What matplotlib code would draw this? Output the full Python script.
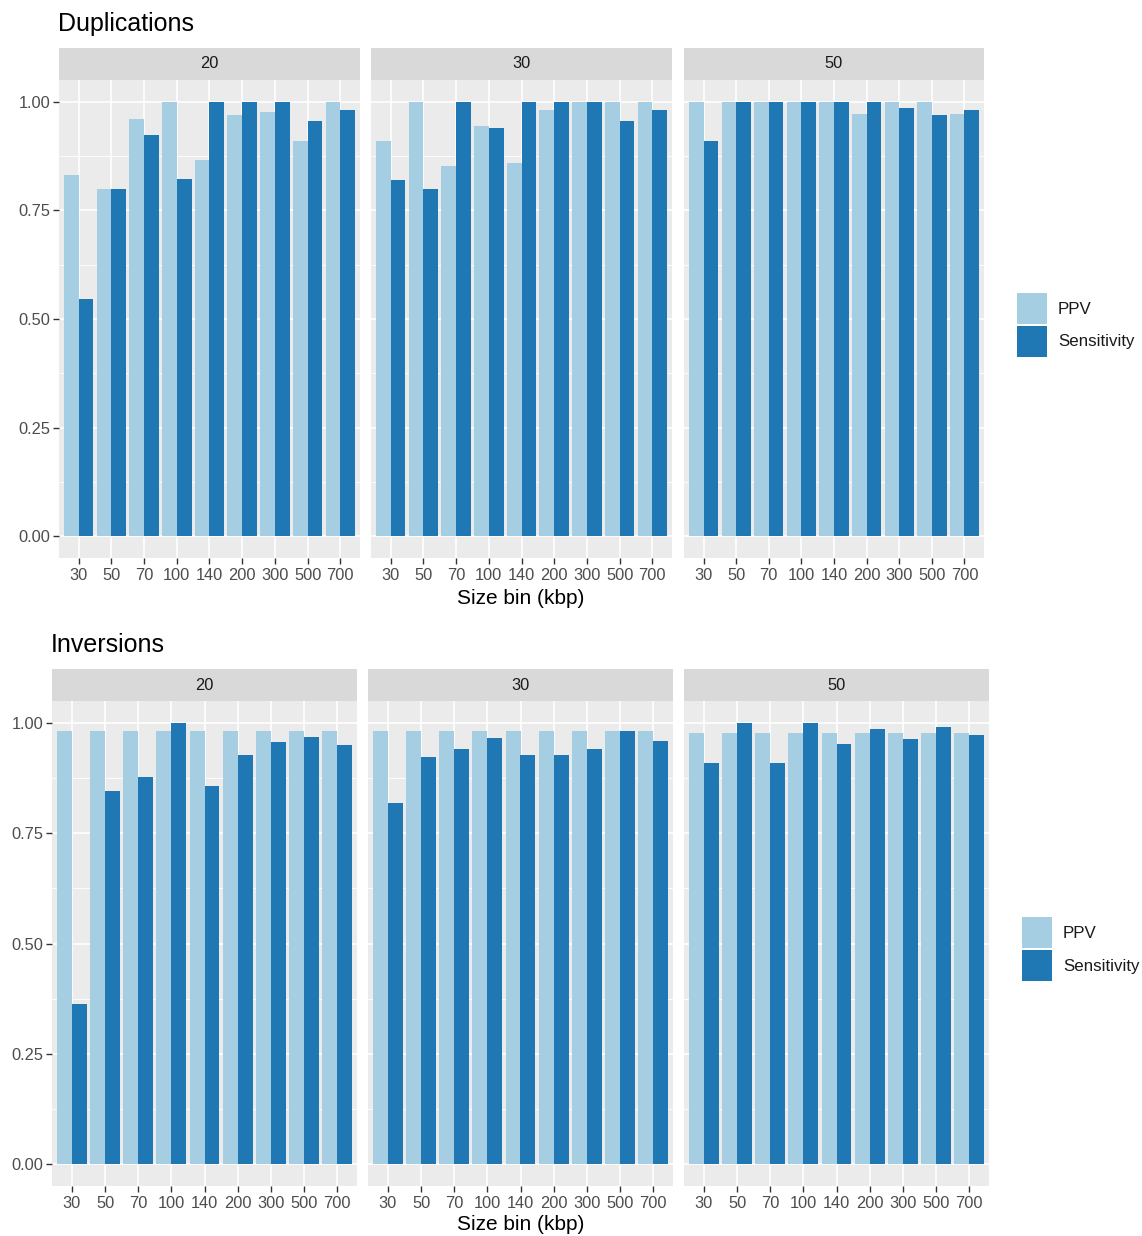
import numpy as np
import matplotlib
matplotlib.use("Agg")
import matplotlib.pyplot as plt
from matplotlib.patches import Rectangle

plt.rcParams['font.family'] = ['Liberation Sans', 'DejaVu Sans']

size_bins = ["30", "50", "70", "100", "140", "200", "300", "500", "700"]
coverages = ["20", "30", "50"]

# Duplications: PPV and sensitivity per coverage
dup_ppv_20 = [0.831, 0.799, 0.960, 1.000, 0.865, 0.969, 0.976, 0.910, 1.000]
dup_sens_20 = [0.546, 0.799, 0.923, 0.822, 1.000, 1.000, 1.000, 0.956, 0.982]
dup_ppv_30 = [0.910, 1.000, 0.851, 0.943, 0.860, 0.982, 1.000, 1.000, 1.000]
dup_sens_30 = [0.819, 0.799, 1.000, 0.940, 1.000, 1.000, 1.000, 0.956, 0.982]
dup_ppv_50 = [1.000, 1.000, 1.000, 1.000, 1.000, 0.971, 1.000, 1.000, 0.971]
dup_sens_50 = [0.910, 1.000, 1.000, 1.000, 1.000, 1.000, 0.985, 0.969, 0.982]

# Inversions: PPV and sensitivity per coverage
inv_ppv_20 = [0.982, 0.982, 0.982, 0.982, 0.982, 0.982, 0.982, 0.982, 0.982]
inv_sens_20 = [0.362, 0.845, 0.877, 1.000, 0.858, 0.927, 0.956, 0.969, 0.950]
inv_ppv_30 = [0.982, 0.982, 0.982, 0.982, 0.982, 0.982, 0.982, 0.982, 0.982]
inv_sens_30 = [0.818, 0.923, 0.941, 0.967, 0.927, 0.927, 0.941, 0.982, 0.960]
inv_ppv_50 = [0.978, 0.978, 0.978, 0.978, 0.978, 0.978, 0.978, 0.978, 0.978]
inv_sens_50 = [0.910, 1.000, 0.910, 1.000, 0.952, 0.986, 0.963, 0.992, 0.972]

series_names = ["PPV", "Sensitivity"]
colors = ["#A6CEE3", "#1F78B4"]

W, H = 1142, 1236
fig = plt.figure(figsize=(W / 100, H / 100), dpi=100)
fig.patch.set_facecolor("white")


def box(x0, y0, x1, y1):
    """Pixel box (top-left origin) to figure fraction rect."""
    return [x0 / W, 1 - y1 / H, (x1 - x0) / W, (y1 - y0) / H]


PANEL_BG = "#EBEBEB"
STRIP_BG = "#D9D9D9"
TXT = "#4D4D4D"
TICK_FS = 11.8


def draw_panel(rect, strip_rect, label, ppv, sens, show_y):
    ax = fig.add_axes(box(*rect))
    ax.set_facecolor(PANEL_BG)
    x = np.arange(len(size_bins))
    w = 0.45
    ax.set_xlim(-0.6, len(size_bins) - 0.4)
    ax.set_ylim(-0.05, 1.05)
    # minor grid
    for yv in [0.125, 0.375, 0.625, 0.875]:
        ax.axhline(yv, color="white", lw=0.6, zorder=0)
    for yv in [0, 0.25, 0.5, 0.75, 1.0]:
        ax.axhline(yv, color="white", lw=1.2, zorder=0)
    for xv in x:
        ax.axvline(xv, color="white", lw=1.2, zorder=0)
    ax.bar(x - w / 2, ppv, width=w, color=colors[0], zorder=2, linewidth=0)
    ax.bar(x + w / 2, sens, width=w, color=colors[1], zorder=2, linewidth=0)
    for s in ax.spines.values():
        s.set_visible(False)
    ax.set_xticks(x)
    ax.set_xticklabels(size_bins, fontsize=TICK_FS, color=TXT)
    ax.tick_params(axis="x", colors="#333333", length=4, width=1, pad=3)
    ax.set_yticks([0, 0.25, 0.5, 0.75, 1.0])
    if show_y:
        ax.set_yticklabels(["0.00", "0.25", "0.50", "0.75", "1.00"], fontsize=TICK_FS, color=TXT)
        ax.tick_params(axis="y", colors="#333333", length=4, width=1, pad=2)
    else:
        ax.set_yticklabels([])
        ax.tick_params(axis="y", length=0)
    for t in ax.get_xticklabels() + ax.get_yticklabels():
        t.set_color(TXT)
    sax = fig.add_axes(box(*strip_rect))
    sax.set_facecolor(STRIP_BG)
    sax.set_xticks([])
    sax.set_yticks([])
    for s in sax.spines.values():
        s.set_visible(False)
    sax.text(0.5, 0.5, label, ha="center", va="center", fontsize=11.8, color="#1A1A1A",
             transform=sax.transAxes)
    return ax


def draw_legend(x0, y0):
    lax = fig.add_axes(box(x0, y0, x0 + 125, y0 + 66))
    lax.set_xlim(0, 125)
    lax.set_ylim(66, 0)
    lax.axis("off")
    for i, (name, c) in enumerate(zip(series_names, colors)):
        lax.add_patch(Rectangle((0, i * 33 + 1), 30, 31, facecolor=c, edgecolor="none"))
        lax.text(41, i * 33 + 17, name, va="center", ha="left", fontsize=12.2, color="#1A1A1A")


# ---- Duplications ----
fig.text(58 / W, 1 - 24 / H, "Duplications", fontsize=18, ha="left", va="center", color="black")
dup_data = [(dup_ppv_20, dup_sens_20), (dup_ppv_30, dup_sens_30), (dup_ppv_50, dup_sens_50)]
top_x = [(59, 360), (371, 672), (684, 984)]
for k, ((x0, x1), (p, s)) in enumerate(zip(top_x, dup_data)):
    draw_panel((x0, 80, x1, 558), (x0, 48, x1, 80), coverages[k], p, s, k == 0)
fig.text(521 / W, 1 - 598 / H, "Size bin (kbp)", fontsize=15, ha="center", va="center", color="black")
draw_legend(1017, 292)

# ---- Inversions ----
fig.text(51 / W, 1 - 645 / H, "Inversions", fontsize=18, ha="left", va="center", color="black")
inv_data = [(inv_ppv_20, inv_sens_20), (inv_ppv_30, inv_sens_30), (inv_ppv_50, inv_sens_50)]
bot_x = [(52, 357), (368, 673), (684, 989)]
for k, ((x0, x1), (p, s)) in enumerate(zip(bot_x, inv_data)):
    draw_panel((x0, 701, x1, 1186), (x0, 669, x1, 701), coverages[k], p, s, k == 0)
fig.text(521 / W, 1 - 1225 / H, "Size bin (kbp)", fontsize=15, ha="center", va="center", color="black")
draw_legend(1022, 916)

fig.savefig("out.png", dpi=100, facecolor="white")
